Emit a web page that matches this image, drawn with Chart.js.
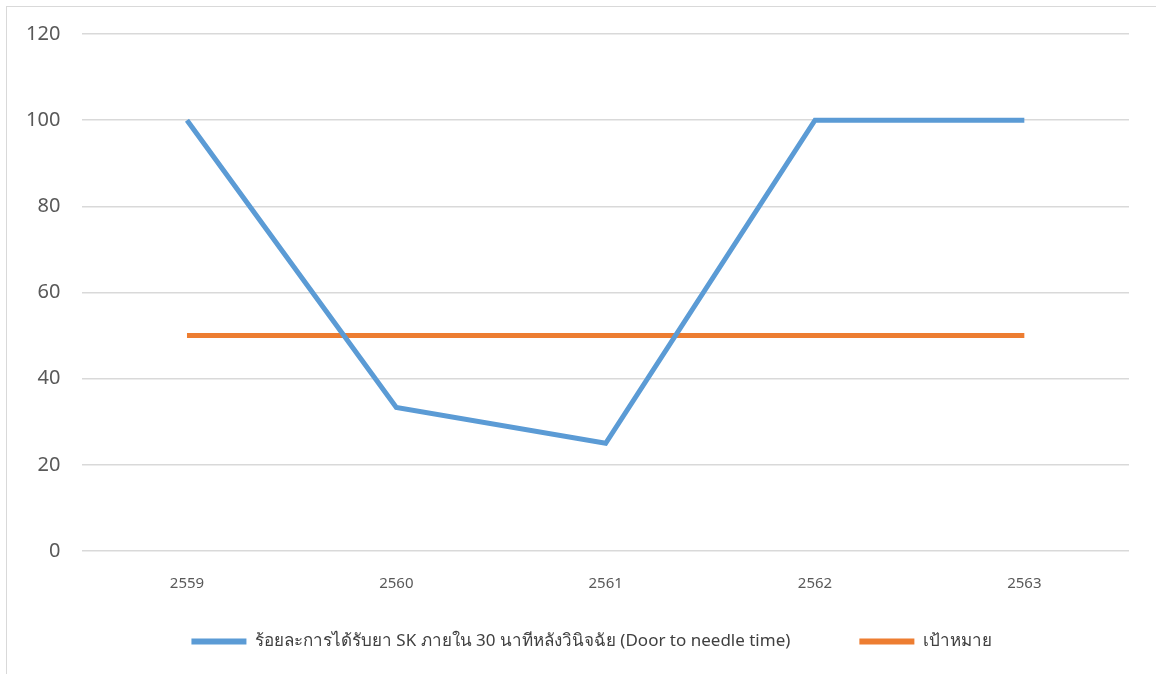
<!DOCTYPE html>
<html>
<head>
<meta charset="utf-8">
<script src="https://cdn.jsdelivr.net/npm/chart.js@4"></script>
<style>
  html, body { margin: 0; padding: 0; background: #fff; }
  #frame { position: absolute; left: 6px; top: 6px; width: 1150px; height: 668px;
           border-left: 1px solid #d9d9d9; border-top: 1px solid #d9d9d9; }
  #wrap { position: absolute; left: 0; top: 0; width: 1156px; height: 674px; }
</style>
</head>
<body>
<div id="frame"></div>
<div id="wrap"><canvas id="grafico"></canvas></div>
<script>
const anos = ['2559', '2560', '2561', '2562', '2563'];
const percentualSK = [100, 33.3, 25, 100, 100];
const meta = [50, 50, 50, 50, 50];
const rotuloSK = 'ร้อยละการได้รับยา SK ภายใน 30 นาทีหลังวินิจฉัย (Door to needle time)';
const rotuloMeta = 'เป้าหมาย';

const ctx = document.getElementById('grafico').getContext('2d');

// empurra a legenda um pouco para a esquerda, como no original
const ajusteLegenda = {
    id: 'ajusteLegenda',
    afterLayout(c) {
        c.legend.left -= 14;
        c.legend.right -= 14;
    }
};

const chart = new Chart(ctx, {
    type: 'line',
    data: {
        labels: anos,
        datasets: [{
            label: rotuloSK,
            data: percentualSK,
            borderColor: '#5b9bd5',
            backgroundColor: '#5b9bd5',
            borderWidth: 5,
            pointRadius: 0,
            tension: 0
        }, {
            label: rotuloMeta,
            data: meta,
            borderColor: '#ed7d31',
            backgroundColor: '#ed7d31',
            borderWidth: 5,
            pointRadius: 0,
            tension: 0
        }]
    },
    plugins: [ajusteLegenda],
    options: {
        responsive: true,
        maintainAspectRatio: false,
        animation: false,
        layout: {
            padding: { left: 4, right: 27, top: 29, bottom: 14 }
        },
        plugins: {
            tooltip: { enabled: false },
            legend: {
                position: 'bottom',
                fullSize: false,
                labels: {
                    boxWidth: 55,
                    boxHeight: 6,
                    padding: 16,
                    color: '#404040',
                    font: { family: 'Noto Sans, sans-serif', size: 17 },
                    generateLabels: (c) => {
                        const itens = Chart.defaults.plugins.legend.labels.generateLabels(c);
                        itens.forEach((item, i) => {
                            item.lineWidth = 0;
                            // espaço extra entre as duas entradas da legenda
                            if (i === 0) item.text = item.text + '            ';
                        });
                        return itens;
                    }
                }
            }
        },
        scales: {
            x: {
                offset: true,
                grid: { display: false, drawTicks: false },
                border: { display: false },
                ticks: {
                    padding: 24,
                    color: '#595959',
                    font: { family: 'Noto Sans, sans-serif', size: 15 }
                }
            },
            y: {
                min: 0,
                max: 120,
                grid: { color: '#d9d9d9', lineWidth: 1.5, drawTicks: false },
                border: { display: false },
                ticks: {
                    stepSize: 20,
                    padding: 22,
                    color: '#595959',
                    font: { family: 'Noto Sans, sans-serif', size: 20 }
                }
            }
        }
    }
});
</script>
</body>
</html>
